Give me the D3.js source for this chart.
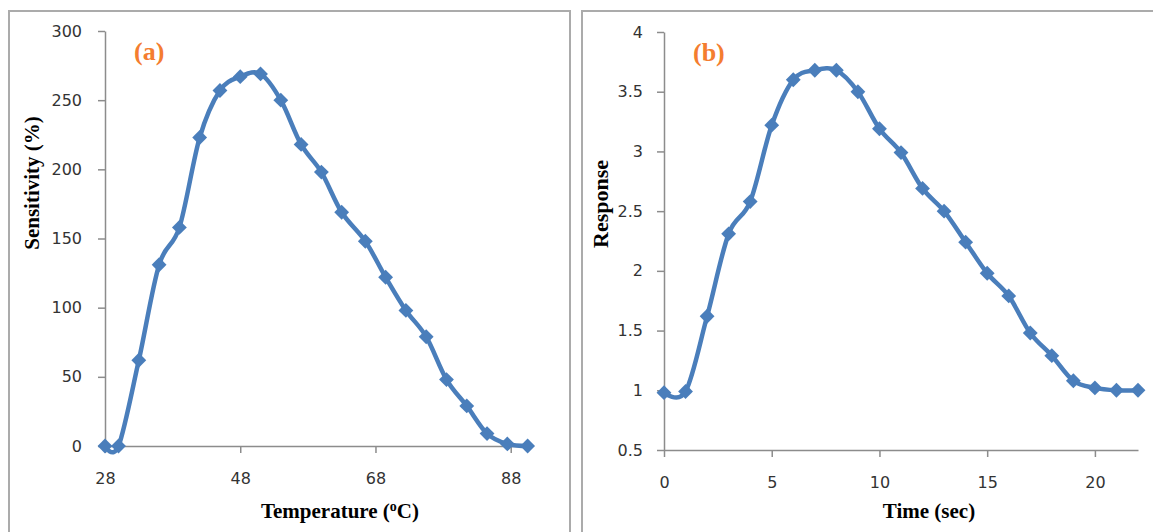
<!DOCTYPE html>
<html>
<head>
<meta charset="utf-8">
<script src="https://d3js.org/d3.v7.min.js"></script>
<style>
body { margin: 0; background: #fff; }
svg { display: block; }
</style>
</head>
<body>
<svg id="chart" width="1153" height="532"></svg>
<script>
// (a) sensitivity vs temperature
var tempC = [28, 30, 33, 36, 39, 42, 45, 48, 51, 54, 57, 60, 63, 66.5, 69.5, 72.5, 75.5, 78.5, 81.5, 84.5, 87.5, 90.5];
var sensitivity = [0, 0, 62, 131, 158, 223, 257, 267, 269, 250, 218, 198, 169, 148, 122, 98, 79, 48, 29, 9, 1.5, 0];
var tempTicks = [28, 48, 68, 88];
var sensTicks = [0, 50, 100, 150, 200, 250, 300];

// (b) response vs time
var timeSec = [0, 1, 2, 3, 4, 5, 6, 7, 8, 9, 10, 11, 12, 13, 14, 15, 16, 17, 18, 19, 20, 21, 22];
var response = [0.98, 0.99, 1.62, 2.31, 2.58, 3.22, 3.6, 3.68, 3.68, 3.5, 3.19, 2.99, 2.69, 2.5, 2.24, 1.98, 1.79, 1.48, 1.29, 1.08, 1.02, 1.0, 1.0];
var timeTicks = [0, 5, 10, 15, 20];
var respTicks = [0.5, 1, 1.5, 2, 2.5, 3, 3.5, 4];

var svg = d3.select('#chart');
var blue = '#4A7EBB';
var orange = '#F47D30';
var tickFont = '"DejaVu Sans", sans-serif';
var titleFont = '"Liberation Serif", "Times New Roman", serif';

// panel frames
svg.append('rect').attr('x', 9).attr('y', 11).attr('width', 561).attr('height', 540)
    .attr('fill', 'none').attr('stroke', '#ABABAB').attr('stroke-width', 2);
svg.append('rect').attr('x', 582).attr('y', 11).attr('width', 600).attr('height', 540)
    .attr('fill', 'none').attr('stroke', '#ABABAB').attr('stroke-width', 2);

function drawPanel(xs, ys, xVals, yVals, xTicks, yTicks, fmtY, xPad, yPad) {
    var g = svg.append('g');
    var xAxis = g.append('g').attr('transform', 'translate(0,' + ys.range()[0] + ')')
        .call(d3.axisBottom(xs).tickValues(xTicks).tickSize(7).tickPadding(xPad).tickSizeOuter(0));
    var yAxis = g.append('g').attr('transform', 'translate(' + xs.range()[0] + ',0)')
        .call(d3.axisLeft(ys).tickValues(yTicks).tickSize(7).tickPadding(yPad).tickSizeOuter(0).tickFormat(fmtY));
    [xAxis, yAxis].forEach(function (a) {
        a.selectAll('path, line').attr('stroke', '#8C8C8C').attr('stroke-width', 1.5);
        a.selectAll('text').attr('fill', '#333').style('font-family', tickFont).style('font-size', '16px');
    });

    var pts = xVals.map(function (d, i) { return [d, yVals[i]]; });
    var line = d3.line()
        .x(function (d) { return xs(d[0]); })
        .y(function (d) { return ys(d[1]); })
        .curve(d3.curveCardinal.tension(0));
    g.append('path').datum(pts).attr('d', line)
        .attr('fill', 'none').attr('stroke', blue).attr('stroke-width', 4.5).attr('stroke-linejoin', 'round');
    g.selectAll('.mk').data(pts).enter().append('path')
        .attr('d', d3.symbol().type(d3.symbolSquare).size(110))
        .attr('transform', function (d) { return 'translate(' + xs(d[0]) + ',' + ys(d[1]) + ') rotate(45)'; })
        .attr('fill', blue);
    return g;
}

var xA = d3.scaleLinear().domain([28, 91]).range([105, 531]);
var yA = d3.scaleLinear().domain([0, 300]).range([446, 31]);
drawPanel(xA, yA, tempC, sensitivity, tempTicks, sensTicks, d3.format('d'), 20, 16);

var xB = d3.scaleLinear().domain([0, 22]).range([664, 1138]);
var yB = d3.scaleLinear().domain([0.5, 4]).range([450, 32]);
drawPanel(xB, yB, timeSec, response, timeTicks, respTicks, function (d) { return String(d); }, 20, 14);

// titles
svg.append('text').attr('transform', 'translate(39,183) rotate(-90)').attr('text-anchor', 'middle')
    .style('font-family', titleFont).style('font-weight', 'bold').style('font-size', '21px')
    .text('Sensitivity (%)');
var tt = svg.append('text').attr('x', 340).attr('y', 518).attr('text-anchor', 'middle')
    .style('font-family', titleFont).style('font-weight', 'bold').style('font-size', '21px');
tt.append('tspan').text('Temperature (');
tt.append('tspan').attr('dy', -7).style('font-size', '14px').text('o');
tt.append('tspan').attr('dy', 7).text('C)');

svg.append('text').attr('transform', 'translate(608,204) rotate(-90)').attr('text-anchor', 'middle')
    .style('font-family', titleFont).style('font-weight', 'bold').style('font-size', '22px')
    .text('Response');
svg.append('text').attr('x', 929).attr('y', 518).attr('text-anchor', 'middle')
    .style('font-family', titleFont).style('font-weight', 'bold').style('font-size', '21px')
    .text('Time (sec)');

svg.append('text').attr('x', 134).attr('y', 60).attr('fill', orange)
    .style('font-family', titleFont).style('font-weight', 'bold').style('font-size', '26px').text('(a)');
svg.append('text').attr('x', 693).attr('y', 61).attr('fill', orange)
    .style('font-family', titleFont).style('font-weight', 'bold').style('font-size', '26px').text('(b)');
</script>
</body>
</html>
